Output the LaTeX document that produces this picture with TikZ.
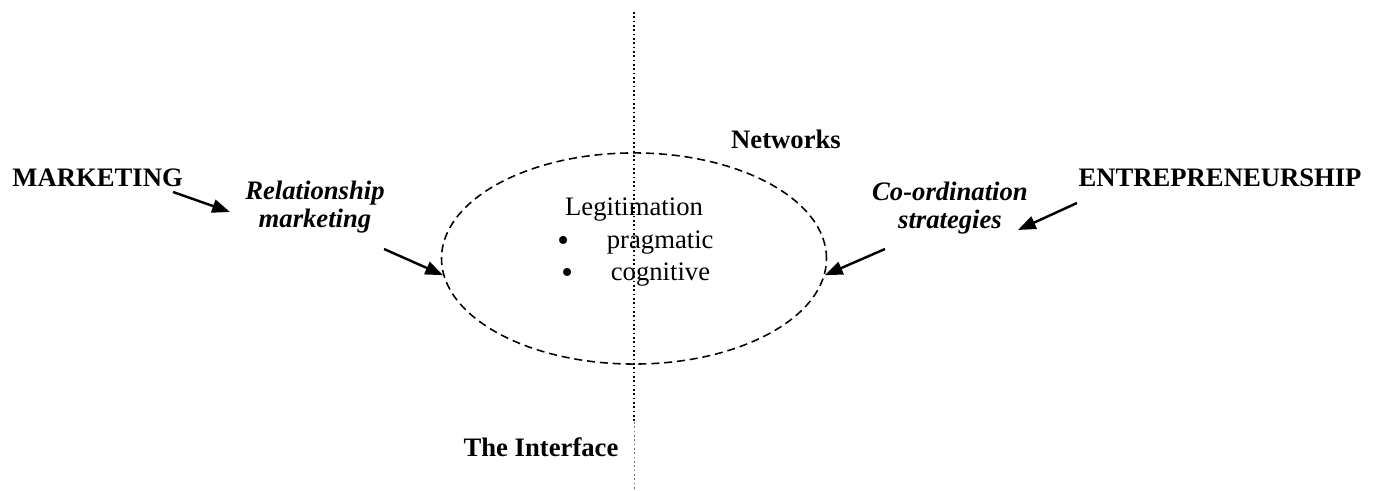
\documentclass[tikz,border=0pt]{standalone}
\usepackage{fontspec}
\setmainfont{Liberation Serif}
\usetikzlibrary{arrows.meta,shapes.geometric}
\newcommand{\bigbul}{\smash{\raisebox{-1pt}{\fontsize{15}{15}\selectfont\textbullet}}}
\tikzset{
	lbl/.style={font=\fontsize{12}{12.6}\selectfont\bfseries, inner sep=0pt},
	itlbl/.style={inner sep=0pt, align=center, font=\fontsize{12}{12.6}\selectfont\bfseries\itshape},
	txt/.style={font=\fontsize{12}{14}\selectfont, inner sep=0pt},
	arr/.style={line width=1.1pt, -{Triangle[length=8pt,width=6pt]}},
	oval/.style={draw, ellipse, dash pattern=on 3.6pt off 2.2pt, line width=0.7pt, minimum width=173.25pt, minimum height=95pt, inner sep=0pt},
	divider/.style={line width=0.6pt, dash pattern=on 0.7pt off 1.25pt},
}
\begin{document}
\begin{tikzpicture}[x=0.45pt, y=-0.45pt]
	\useasboundingbox (0,0) rectangle (1379,491);
	% the interface line
	\coordinate (div-top) at (634,12);
	\coordinate (div-mid) at (634,422);
	\coordinate (div-bot) at (634,491);
	\draw [divider] (div-top) -- (div-mid);
	\draw [divider, black!55, line width=0.45pt] (div-mid) -- (div-bot);
	\node [oval] (net) at (634,258.5) {};
	% labels
	\node [lbl, anchor=base west] (mkt) at (12,187) {MARKETING};
	\node [lbl, anchor=base east] (ent) at (1362,187) {ENTREPRENEURSHIP};
	\node [itlbl, anchor=base] (rel) at (315,228) {Relationship\\marketing};
	\node [itlbl, anchor=base] (coord) at (950,229) {Co-ordination\\strategies};
	\node [lbl, anchor=base] (netw) at (786,149) {Networks};
	\node [lbl, anchor=base] (ifc) at (541,457) {The Interface};
	\node [txt, anchor=base] (legit) at (634,216) {Legitimation};
	\node [txt, anchor=base west] (prag) at (557,249) {\bigbul\hspace{17pt}pragmatic};
	\node [txt, anchor=base west] (cogn) at (561,281) {\bigbul\hspace{17pt}cognitive};
	% arrows
	\coordinate (mkt-tail) at (173,192);
	\coordinate (rel-head) at (230,212);
	\coordinate (rel-tail) at (384,249);
	\coordinate (ent-tail) at (1077,203);
	\coordinate (coord-head) at (1018,230);
	\coordinate (coord-tail) at (885,249);
	\draw [arr] (mkt-tail) -- (rel-head);
	\draw [arr] (rel-tail) -- (net.185);
	\draw [arr] (ent-tail) -- (coord-head);
	\draw [arr] (coord-tail) -- (net.-5);
\end{tikzpicture}
\end{document}
